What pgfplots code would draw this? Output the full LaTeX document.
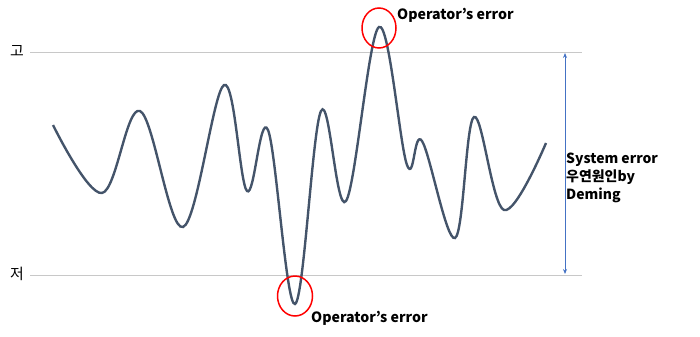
\documentclass[border=0pt]{standalone}
\usepackage{pgfplots}
\pgfplotsset{compat=1.18}
\usetikzlibrary{arrows.meta}
\usepackage{fontspec}
\setmainfont{Noto Sans CJK KR}
\definecolor{curve}{HTML}{44546A}
\definecolor{arrowblue}{HTML}{4472C4}
\definecolor{refline}{HTML}{C8C8C8}
\begin{document}
\begin{tikzpicture}
\begin{axis}[
  scale only axis, width=700bp, height=336bp,
  xmin=0, xmax=700, ymin=0, ymax=336, y dir=reverse,
  axis lines=none, clip=false,
]
\path (axis cs:0,0) -- (axis cs:700,336);
% reference lines
\addplot[refline, line width=1pt] coordinates {(30,52) (582,52)};
\addplot[refline, line width=1pt] coordinates {(30,275) (582,275)};
% curve
\addplot[curve, line width=2.4pt, smooth, tension=0.6] coordinates {
(53,125) (102,193) (140,111) (183,227)
(224,85) (247,191) (268,130)
(295,304) (321,111) (346,201) (379,27)
(407,165) (422,141) (455,238)
(474,117) (504,210) (546,143)
};
% arrow
\draw[arrowblue, line width=0.8pt, {Stealth[length=5pt,width=4pt]}-{Stealth[length=5pt,width=4pt]}] (axis cs:565,53) -- (axis cs:565,274);
% red circles
\draw[red, line width=1.5pt] (axis cs:379,28) ellipse [x radius=17bp, y radius=20bp];
\draw[red, line width=1.5pt] (axis cs:295,296) ellipse [x radius=17.5bp, y radius=20bp];
% labels
\node[anchor=west, font=\fontsize{14.2}{16}\selectfont\bfseries, inner sep=0pt] at (axis cs:397,15) {Operator’s error};
\node[anchor=west, font=\fontsize{14.2}{16}\selectfont\bfseries, inner sep=0pt] at (axis cs:311,318) {Operator’s error};
\node[anchor=north west, align=left, font=\fontsize{14}{18}\selectfont\bfseries, inner sep=0pt] at (axis cs:566,153) {System error\\우연원인by\\Deming};
\node[font=\fontsize{15}{17}\selectfont, inner sep=0pt] at (axis cs:17,51) {고};
\node[font=\fontsize{15}{17}\selectfont, inner sep=0pt] at (axis cs:17,274) {저};
\end{axis}
\end{tikzpicture}
\end{document}
